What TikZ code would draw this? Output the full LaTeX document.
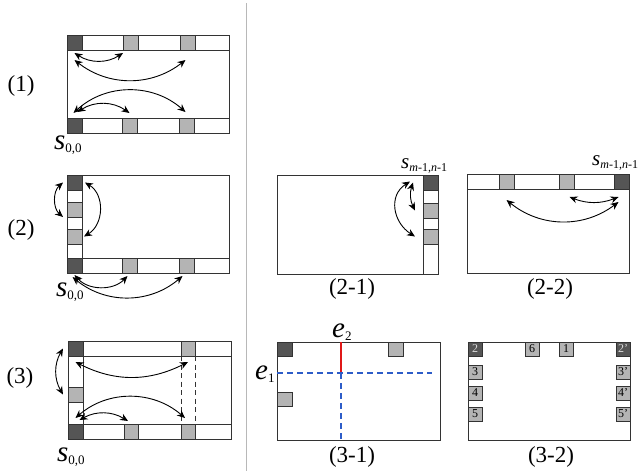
\documentclass[tikz,border=0pt]{standalone}
\usepackage{fontspec}
\setmainfont{Liberation Serif}
\usetikzlibrary{arrows.meta}
\definecolor{CellDark}{HTML}{555555}
\definecolor{CellLight}{HTML}{B4B4B4}
\definecolor{EdgeGray}{HTML}{333333}
\definecolor{AxisBlue}{HTML}{2D5CC8}
\definecolor{AxisRed}{HTML}{E01818}
\newcommand{\indexed}[4]{{\fontsize{#1}{#1}\selectfont\itshape #3}\raisebox{-3pt}{\fontsize{#2}{#2}\selectfont #4}}

\begin{document}
\begin{tikzpicture}[x=1pt, y=-1pt,
  panel/.style 2 args={draw=EdgeGray, line width=0.8pt, minimum width=#1, minimum height=#2,
    inner sep=0pt, outer sep=0pt, anchor=north west},
  cell/.style={draw=EdgeGray, line width=0.7pt, minimum width=15pt, minimum height=15pt,
    inner sep=0pt, outer sep=0pt, anchor=north west},
  darkcell/.style={cell, fill=CellDark},
  lightcell/.style={cell, fill=CellLight},
  numcell/.style={cell, fill=CellLight, minimum width=14pt, minimum height=14pt,
    font=\fontsize{12}{12}\selectfont},
  numdark/.style={numcell, fill=CellDark, text=white!85!black},
  strip/.style={draw=EdgeGray, line width=0.8pt},
  longdash/.style={dash pattern=on 5pt off 3.5pt},
  swap/.style={{Stealth[length=8pt,width=7pt]}-{Stealth[length=8pt,width=7pt]}, line width=0.9pt},
  caption/.style={font=\fontsize{23}{23}\selectfont, inner sep=0pt},
  symlabel/.style={anchor=base west, inner sep=0pt}
]
\useasboundingbox (0,0) rectangle (640,472);
\draw[black!28, line width=1pt] (246,3) -- (246,471);

% (1)
\node[caption] (lab1) at (21,86) {(1)};
\node[panel={162pt}{98pt}] (f1) at (67,35) {};
\node[darkcell] (t1d) at (67,35) {};
\node[lightcell] (t1a) at (123,35) {};
\node[lightcell] (t1b) at (180,35) {};
\node[darkcell] (b1d) at (67,118) {};
\node[lightcell] (b1a) at (122,118) {};
\node[lightcell] (b1b) at (179,118) {};
\draw[strip] (f1.west |- t1d.south) -- (f1.east |- t1d.south);
\draw[strip] (f1.west |- b1d.north) -- (f1.east |- b1d.north);
\draw[swap] ([yshift=-3pt]t1d.south) to[bend right=33] ([yshift=-3pt]t1a.south west);
\draw[swap] ([yshift=-10pt]t1d.south) to[bend right=38] ([shift={(-2pt,-10pt)}]t1b.south);
\draw[swap] ([shift={(-1pt,5pt)}]b1d.north) to[bend left=42] ([shift={(-1pt,6pt)}]b1b.north);
\draw[swap] ([shift={(3pt,6pt)}]b1d.north) to[bend left=34] ([yshift=5pt]b1a.north);
\node[symlabel] (s1) at (54,149) {\indexed{29}{13}{s}{0,0}};

% (2)
\node[caption] (lab2) at (21,230) {(2)};
\node[panel={162pt}{98pt}] (f2) at (67,175) {};
\node[darkcell] (l2d) at (67,175) {};
\node[lightcell] (l2a) at (67,202) {};
\node[lightcell] (l2b) at (67,229) {};
\node[darkcell] (b2d) at (67,258) {};
\node[lightcell] (b2a) at (122,258) {};
\node[lightcell] (b2b) at (179,258) {};
\draw[strip] (l2d.north east) -- (b2d.north east);
\draw[strip] (f2.west |- b2d.north) -- (f2.east |- b2d.north);
\draw[swap] ([xshift=-4pt]l2d.west) to[bend right=49] ([xshift=-4pt]l2a.south west);
\draw[swap] ([xshift=3pt]l2d.east) .. controls +(20,12) and +(20,-12) .. ([xshift=2pt]l2b.east);
\draw[swap] ([yshift=-2pt]b2d.south) to[bend right=47] ([shift={(-2pt,-3pt)}]b2a.south);
\draw[swap] ([shift={(-2pt,-4pt)}]b2d.south) to[bend right=40] ([shift={(-4pt,-3pt)}]b2b.south);
\node[symlabel] (s2) at (56,296.5) {\indexed{29}{13}{s}{0,0}};

% (3)
\node[caption] (lab3) at (20,378) {(3)};
\node[panel={163pt}{98pt}] (f3) at (68,341) {};
\node[darkcell] (t3d) at (68,341) {};
\node[lightcell, minimum width=14pt] (t3a) at (181,341) {};
\node[lightcell] (l3a) at (68,387) {};
\node[darkcell] (b3d) at (68,424) {};
\node[lightcell, minimum width=14pt] (b3a) at (124,424) {};
\node[lightcell, minimum width=14pt] (b3b) at (181,424) {};
\draw[strip] (f3.west |- t3d.south) -- (f3.east |- t3d.south);
\draw[strip] (f3.west |- b3d.north) -- (f3.east |- b3d.north);
\draw[strip] (t3d.north east) -- (b3d.south east);
\draw[strip, longdash] (t3a.south west) -- (b3b.north west) (t3a.south east) -- (b3b.north east);
\draw[swap] ([xshift=-5pt]t3d.west) to[bend right=30] ([xshift=-5pt]l3a.west);
\draw[swap] ([yshift=-6pt]t3d.south) to[bend right=27] ([yshift=-6pt]t3a.south);
\draw[swap] ([yshift=6pt]b3d.north) to[bend left=41] ([shift={(-3pt,6pt)}]b3b.north);
\draw[swap] ([shift={(4pt,4pt)}]b3d.north) to[bend left=30] ([shift={(-3pt,3pt)}]b3a.north);
\node[symlabel] (s3) at (57,461.5) {\indexed{29}{13}{s}{0,0}};

% (2-1)
\node[panel={161pt}{99pt}] (f21) at (277,175) {};
\node[darkcell] (r21d) at (423,175) {};
\node[lightcell] (r21a) at (423,203) {};
\node[lightcell] (r21b) at (423,229) {};
\draw[strip] (r21d.north west) -- (r21d.north west |- f21.south);
\draw[swap] ([xshift=-10pt]r21d.west) to[bend right=22] ([xshift=-8pt]r21a.west);
\draw[swap] ([shift={(-13pt,1pt)}]r21d.west) .. controls +(-22,14) and +(-22,-14) .. ([xshift=-8pt]r21b.west);
\node[symlabel] (s21) at (401,168) {\indexed{21}{12}{s}{\textit{m}-1,\textit{n}-1}};
\node[caption] (lab21) at (352,289) {(2-1)};

% (2-2)
\node[panel={162pt}{99pt}] (f22) at (467,174) {};
\node[lightcell] (t22a) at (499,174) {};
\node[lightcell] (t22b) at (559,174) {};
\node[darkcell] (t22d) at (614,174) {};
\draw[strip] (f22.west |- t22a.south) -- (f22.east |- t22a.south);
\draw[swap] ([shift={(3pt,-8pt)}]t22b.south) to[bend right=21] ([shift={(-3pt,-8pt)}]t22d.south);
\draw[swap] ([yshift=-11pt]t22a.south) to[bend right=38] ([shift={(-3pt,-13pt)}]t22d.south);
\node[symlabel] (s22) at (592,165) {\indexed{21}{12}{s}{\textit{m}-1,\textit{n}-1}};
\node[caption] (lab22) at (550,289) {(2-2)};

% (3-1)
\node[panel={163pt}{98pt}] (f31) at (277,342) {};
\node[darkcell, minimum height=14pt] (c31d) at (277,342) {};
\node[lightcell, minimum height=14pt] (c31a) at (388,342) {};
\node[lightcell, minimum height=14pt] (c31b) at (277,392) {};
\coordinate (o31) at (341,373);
\coordinate (e1end) at (432,373);
\draw[draw=AxisRed, line width=1.1pt] (o31 |- f31.north) -- (o31);
\draw[draw=AxisBlue, dash pattern=on 6pt off 4pt, line width=1.1pt] (f31.west |- o31) -- (e1end);
\draw[draw=AxisBlue, dash pattern=on 6pt off 4pt, line width=1.1pt] (o31) -- (o31 |- f31.south);
\node[symlabel] (e2) at (332,337) {\indexed{29}{13}{e}{2}};
\node[symlabel] (e1) at (255,379) {\indexed{29}{13}{e}{1}};
\node[caption] (lab31) at (352,457) {(3-1)};

% (3-2)
\node[panel={162pt}{98pt}] (f32) at (468,342) {};
\node[numdark] (n2) at (468,342) {2};
\node[numcell] (n6) at (525,342) {6};
\node[numcell] (n1) at (559,342) {1};
\node[numdark] (n2p) at (616,342) {2'};
\node[numcell] (n3) at (468,365) {3};
\node[numcell] (n4) at (468,386) {4};
\node[numcell] (n5) at (468,407) {5};
\node[numcell] (n3p) at (616,365) {3'};
\node[numcell] (n4p) at (616,386) {4'};
\node[numcell] (n5p) at (616,407) {5'};
\node[caption] (lab32) at (551,457) {(3-2)};
\end{tikzpicture}
\end{document}
